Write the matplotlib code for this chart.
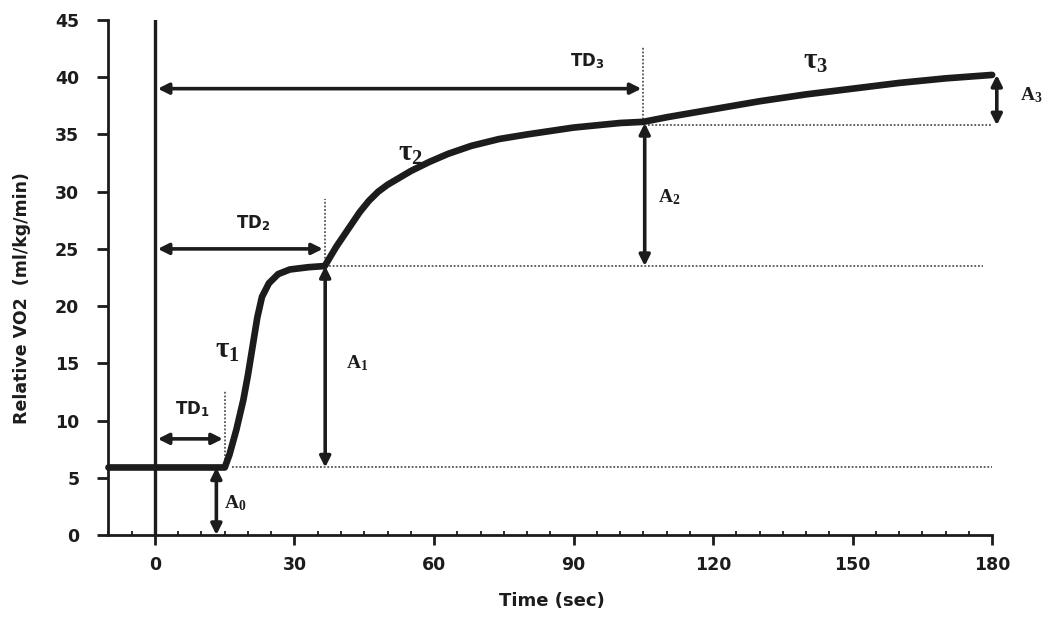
import matplotlib
matplotlib.use("Agg")
import matplotlib.pyplot as plt
from matplotlib.ticker import MultipleLocator

plt.rcParams['font.family'] = ['DejaVu Sans']
plt.rcParams['mathtext.fontset'] = 'custom'
plt.rcParams['mathtext.rm'] = 'Liberation Serif:bold'
plt.rcParams['mathtext.sf'] = 'DejaVu Sans:bold'
plt.rcParams['mathtext.it'] = 'Liberation Serif:italic'

# --- VO2 response curve (baseline + three phases) ---
time_sec = [-10, 0, 10, 15, 16, 17.5, 19, 20, 21, 22, 23, 24.5, 26.5, 29, 33, 36.5,
            39, 42, 44, 46, 48, 50, 55, 59, 63, 68, 74, 80, 85, 90, 95, 100, 105,
            110, 120, 130, 140, 150, 160, 170, 180]
vo2 = [5.9, 5.9, 5.9, 5.9, 7.0, 9.2, 11.8, 14.0, 16.5, 19.0, 20.8, 22.0, 22.8, 23.2, 23.4, 23.5,
       25.2, 27.0, 28.2, 29.2, 30.0, 30.6, 31.8, 32.6, 33.3, 34.0, 34.6, 35.0, 35.3, 35.6, 35.8, 36.0, 36.1,
       36.5, 37.2, 37.9, 38.5, 39.0, 39.5, 39.9, 40.2]

# time delays (sec) and amplitude levels (ml/kg/min)
time_delays = [15, 36.5, 105]
td_arrow_y = [8.4, 25.0, 39.0]
levels = [5.9, 23.5, 36.0, 40.2]

x_ticks = [0, 30, 60, 90, 120, 150, 180]
y_ticks = [0, 5, 10, 15, 20, 25, 30, 35, 40, 45]

INK = '#1c1c1c'

fig = plt.figure(figsize=(10.52, 6.17), dpi=100)
ax = fig.add_axes([0.1031, 0.1329, 0.8400, 0.8347])

ax.set_xlim(-10, 180)
ax.set_ylim(0, 45)

# the curve itself
ax.plot(time_sec, vo2, color=INK, lw=4.8, solid_capstyle='round',
        solid_joinstyle='round', clip_on=False, zorder=5)

# exercise onset marker
ax.plot([0, 0], [0, 45], color=INK, lw=2.4, zorder=4)

# dotted reference levels
dot = dict(color='#3a3a3a', lw=1.1, ls=(0, (1.2, 1.2)), zorder=2)
ax.plot([16.5, 180], [levels[0], levels[0]], **dot)
ax.plot([37.5, 178], [levels[1], levels[1]], **dot)
ax.plot([106, 180], [35.8, 35.8], **dot)

# dotted markers at the end of each delay
ax.plot([time_delays[0], time_delays[0]], [levels[0], 12.6], **dot)
ax.plot([time_delays[1], time_delays[1]], [levels[1], 29.4], **dot)
ax.plot([time_delays[2], time_delays[2]], [levels[2], 42.7], **dot)

arrow = dict(arrowstyle='<|-|>', color=INK, lw=2.6, mutation_scale=16,
             shrinkA=0, shrinkB=0)

# time delay arrows
for td, ya in zip(time_delays, td_arrow_y):
    ax.annotate('', xy=(0.6, ya), xytext=(td - 0.4, ya), arrowprops=arrow, zorder=6)

# amplitude arrows
ax.annotate('', xy=(13.2, 0), xytext=(13.2, levels[0]), arrowprops=arrow,
            annotation_clip=False, zorder=6)
ax.annotate('', xy=(36.6, levels[0]), xytext=(36.6, levels[1]), arrowprops=arrow, zorder=6)
ax.annotate('', xy=(105.3, levels[1]), xytext=(105.3, levels[2]), arrowprops=arrow, zorder=6)
ax.annotate('', xy=(181, 35.8), xytext=(181, levels[3]), arrowprops=arrow,
            annotation_clip=False, zorder=6)

# labels
td_kw = dict(fontsize=12, ha='center', va='center', color=INK)
ax.text(8.0, 11.0, r'$\mathsf{TD}_\mathsf{1}$', **td_kw)
ax.text(21.0, 27.2, r'$\mathsf{TD}_\mathsf{2}$', **td_kw)
ax.text(93.0, 41.4, r'$\mathsf{TD}_\mathsf{3}$', **td_kw)

a_kw = dict(fontsize=14, ha='center', va='center', color=INK)
ax.text(17.2, 2.8, r'$\mathrm{A}_\mathrm{0}$', **a_kw)
ax.text(43.5, 15.0, r'$\mathrm{A}_\mathrm{1}$', **a_kw)
ax.text(110.5, 29.5, r'$\mathrm{A}_\mathrm{2}$', **a_kw)
ax.text(188.5, 38.4, r'$\mathrm{A}_\mathrm{3}$', clip_on=False, **a_kw)

tau_kw = dict(fontsize=21, ha='center', va='center', color=INK)
ax.text(15.5, 16.2, r'$\mathrm{τ}_\mathrm{1}$', **tau_kw)
ax.text(55.0, 33.4, r'$\mathrm{τ}_\mathrm{2}$', **tau_kw)
ax.text(142.0, 41.4, r'$\mathrm{τ}_\mathrm{3}$', **tau_kw)

# axes styling
for side in ('top', 'right'):
    ax.spines[side].set_visible(False)
for side in ('left', 'bottom'):
    ax.spines[side].set_linewidth(2.0)
    ax.spines[side].set_color(INK)

ax.set_xticks(x_ticks)
ax.set_yticks(y_ticks)
ax.xaxis.set_minor_locator(MultipleLocator(5))
ax.tick_params(axis='x', which='major', direction='out', length=7, width=2,
               pad=8, labelsize=12.5, colors=INK)
ax.tick_params(axis='x', which='minor', direction='in', length=3, width=1.3, colors=INK)
ax.tick_params(axis='y', which='major', direction='out', length=8, width=2,
               pad=13, labelsize=12.5, colors=INK)
for lbl in ax.get_xticklabels() + ax.get_yticklabels():
    lbl.set_fontweight('bold')

ax.set_xlabel('Time (sec)', fontsize=13, fontweight='bold', color=INK)
ax.xaxis.set_label_coords(0.502, -0.11)
ax.set_ylabel('Relative VO2  (ml/kg/min)', fontsize=12.5, fontweight='bold', color=INK)
ax.yaxis.set_label_coords(-0.088, 0.46)

fig.savefig('out.png', dpi=100)
